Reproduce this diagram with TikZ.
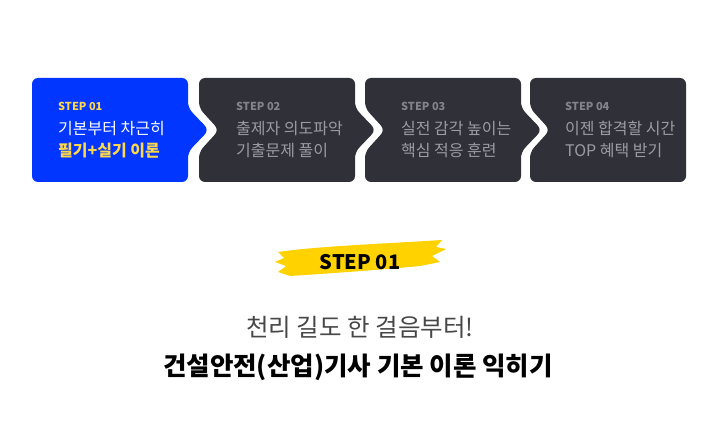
\documentclass[tikz,border=0pt]{standalone}
\usepackage{fontspec}
\setmainfont{Noto Sans CJK KR}
\begin{document}
\begin{tikzpicture}[x=1pt,y=-1pt]
\definecolor{sblue}{HTML}{0036FF}
\definecolor{sdark}{HTML}{2F3038}
\definecolor{syel}{HTML}{FFD84A}
\definecolor{sgray}{HTML}{9A9BA3}
\definecolor{brush}{HTML}{FFD200}
\useasboundingbox[fill=white] (0,0) rectangle (716,425);
\tikzset{lab/.style={font=\bfseries\fontsize{11}{12}\selectfont,anchor=west,inner sep=0},
 txt/.style={font=\fontsize{16}{22}\selectfont,anchor=north west,align=left,inner sep=0}}
\fill[sblue,rounded corners=6] (32,78) -- (188,78) -- (188,108) -- (209,130) -- (188,152) -- (188,182) -- (32,182) -- cycle;
\fill[sdark,rounded corners=6] (199,78) -- (355,78) -- (355,108) -- (376,130) -- (355,152) -- (355,182) -- (199,182) -- (199,152) -- (219,130) -- (199,108) -- cycle;
\fill[sdark,rounded corners=6] (365,78) -- (521,78) -- (521,108) -- (542,130) -- (521,152) -- (521,182) -- (365,182) -- (365,152) -- (385,130) -- (365,108) -- cycle;
\fill[sdark,rounded corners=6] (530,78) -- (686,78) -- (686,182) -- (530,182) -- (530,152) -- (550,130) -- (530,108) -- cycle;
\node[lab,text=syel] (l1) at (58,106) {STEP 01};
\node[txt,text=white] (t1) at (58,121) {기본부터 차근히\\{\bfseries\color{syel}필기+실기 이론}};
\node[lab,text=sgray!85!black] (l2) at (236,106) {STEP 02};
\node[txt,text=sgray] (t2) at (236,121) {출제자 의도파악\\기출문제 풀이};
\node[lab,text=sgray!85!black] (l3) at (401,106) {STEP 03};
\node[txt,text=sgray] (t3) at (401,121) {실전 감각 높이는\\핵심 적응 훈련};
\node[lab,text=sgray!85!black] (l4) at (565,106) {STEP 04};
\node[txt,text=sgray] (t4) at (565,121) {이젠 합격할 시간\\TOP 혜택 받기};
\fill[brush] (278,252) .. controls (320,246) and (380,244) .. (442,240) -- (436,247) -- (446,249) -- (432,256) -- (440,262) -- (420,266) .. controls (380,270) and (320,274) .. (290,276) -- (278,272) -- (286,266) -- (275,262) -- (284,258) -- cycle;
\node[font=\bfseries\fontsize{20}{22}\selectfont,inner sep=0] (s) at (360,262) {STEP 01};
\node[font=\fontsize{24.5}{28}\selectfont,text=black!72,inner sep=0] (h1) at (360,327) {천리 길도 한 걸음부터!};
\node[font=\bfseries\fontsize{25.5}{28}\selectfont,inner sep=0] (h2) at (358,367) {건설안전(산업)기사 기본 이론 익히기};
\end{tikzpicture}
\end{document}
